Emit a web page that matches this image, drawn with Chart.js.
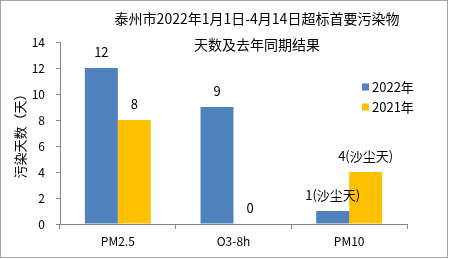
<!DOCTYPE html>
<html><head><meta charset="utf-8">
<script src="https://cdn.jsdelivr.net/npm/chart.js@4"></script>
<style>html,body{margin:0;padding:0;background:#fff}#wrap{width:449px;height:259px}</style>
</head><body><div id="wrap"><canvas id="c" width="449" height="259"></canvas></div>
<script>
const categories = ['PM2.5', 'O3-8h', 'PM10'];
const seriesNames = ['2022年', '2021年'];
const values2022 = [12, 9, 1];
const values2021 = [8, 0, 4];
const labels2022 = ['12', '9', '1(沙尘天)'];
const labels2021 = ['8', '0', '4(沙尘天)'];
const titleLines = ['泰州市2022年1月1日-4月14日超标首要污染物', '天数及去年同期结果'];
const yTitle = '污染天数（天）';
const FONT = '"Noto Sans CJK SC", "Noto Sans", sans-serif';

const extras = {
  id: 'extras',
  afterDraw(chart) {
    const ctx = chart.ctx;
    ctx.save();
    ctx.strokeStyle = '#a6a6a6'; ctx.lineWidth = 1;
    ctx.strokeRect(0.5, 0.5, 447, 257);
    ctx.fillStyle = '#000'; ctx.font = '14px ' + FONT;
    ctx.textAlign = 'center'; ctx.textBaseline = 'middle';
    ctx.fillText(titleLines[0], 257, 19);
    ctx.fillText(titleLines[1], 257, 45);
    ctx.font = '13px ' + FONT;
    const lbls = [labels2022, labels2021];
    chart.data.datasets.forEach((ds, di) => {
      chart.getDatasetMeta(di).data.forEach((bar, i) => {
        ctx.fillText(lbls[di][i], bar.x, bar.y - 16);
      });
    });
    ctx.textAlign = 'left';
    ctx.font = '13px ' + FONT;
    const ly = [87, 107];
    chart.data.datasets.forEach((ds, di) => {
      ctx.fillStyle = ds.backgroundColor;
      ctx.fillRect(362, ly[di] - 3.5, 7, 7);
      ctx.fillStyle = '#000';
      ctx.fillText(ds.label, 372, ly[di]);
    });
    ctx.restore();
  }
};

new Chart(document.getElementById('c'), {
  type: 'bar',
  data: {
    labels: categories,
    datasets: [
      { label: seriesNames[0], data: values2022, backgroundColor: '#4F81BD' },
      { label: seriesNames[1], data: values2021, backgroundColor: '#FFC000' }
    ]
  },
  options: {
    responsive: false,
    animation: false,
    devicePixelRatio: 1,
    layout: { padding: { top: 42, right: 42, left: 0, bottom: 0 } },
    datasets: { bar: { categoryPercentage: 0.57, barPercentage: 1.0 } },
    plugins: { legend: { display: false }, title: { display: false }, tooltip: { enabled: false } },
    scales: {
      x: {
        grid: { display: true, drawOnChartArea: false, drawTicks: true, tickLength: 5, color: '#868686', offset: true },
        border: { color: '#868686' },
        ticks: { color: '#000', font: { family: FONT, size: 12 }, padding: 5 },
        afterFit(s) { s.height = 35; }
      },
      y: {
        min: 0, max: 14,
        grid: { display: true, drawOnChartArea: false, drawTicks: true, tickLength: 4, color: '#868686' },
        border: { color: '#868686' },
        ticks: { stepSize: 2, color: '#000', font: { family: FONT, size: 12 }, padding: 11 },
        title: { display: true, text: yTitle, color: '#000', font: { family: FONT, size: 13 }, padding: { top: 12, bottom: 0 } },
        afterFit(s) { s.width = 60; }
      }
    }
  },
  plugins: [extras]
});
</script></body></html>
